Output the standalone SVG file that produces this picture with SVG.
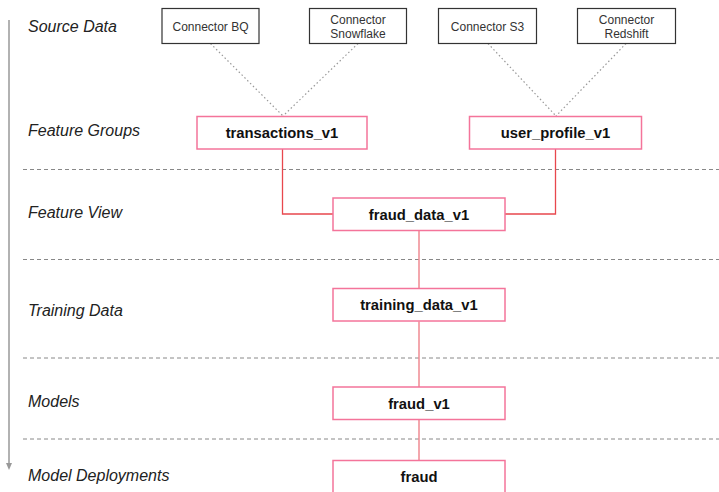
<svg xmlns="http://www.w3.org/2000/svg" width="719" height="492" viewBox="0 0 719 492">
<defs>
<style>
.lane{font-family:"Liberation Sans",Arial,sans-serif;font-style:italic;font-size:16px;fill:#222}
.src rect{fill:#fff;stroke:#333;stroke-width:1.2}
.src text{font-family:"Liberation Sans",Arial,sans-serif;font-size:12px;fill:#333;text-anchor:middle}
.node rect{fill:#fff;stroke:#f4749a;stroke-width:1.5}
.node text{font-family:"Liberation Sans",Arial,sans-serif;font-weight:bold;font-size:14.8px;fill:#111;text-anchor:middle}
.sep{stroke:#888;stroke-width:1;stroke-dasharray:4 3;fill:none}
.dot{stroke:#999;stroke-width:1.2;stroke-dasharray:1.5 2.5;fill:none}
.red{stroke:#e8474d;stroke-width:1.3;fill:none}
.pink{stroke:#ef8a92;stroke-width:1.5;fill:none}
</style>
<marker id="ah" markerWidth="6" markerHeight="6" refX="3" refY="5" orient="auto" markerUnits="userSpaceOnUse">
<path d="M0,0 L6,0 L3,6 Z" fill="#999"/>
</marker>
</defs>
<rect width="719" height="492" fill="#fff"/>
<line x1="9" y1="20" x2="9" y2="464" stroke="#999" stroke-width="1.5"/>
<path d="M6,463 L12,463 L9,470 Z" fill="#999"/>
<g id="separators">
<line class="sep" x1="23" y1="169.5" x2="719" y2="169.5"/>
<line class="sep" x1="23" y1="259.5" x2="719" y2="259.5"/>
<line class="sep" x1="23" y1="358" x2="719" y2="358"/>
<line class="sep" x1="23" y1="439" x2="719" y2="439"/>
</g>
<g id="lanes">
<text class="lane" x="28" y="31.5">Source Data</text>
<text class="lane" x="28" y="136">Feature Groups</text>
<text class="lane" x="28" y="217.5">Feature View</text>
<text class="lane" x="28" y="316">Training Data</text>
<text class="lane" x="28" y="407">Models</text>
<text class="lane" x="28" y="481">Model Deployments</text>
</g>
<g id="connectors">
<line class="dot" x1="210.5" y1="43.5" x2="283" y2="116"/>
<line class="dot" x1="358" y1="43.5" x2="283" y2="116"/>
<line class="dot" x1="488" y1="43.5" x2="556" y2="116"/>
<line class="dot" x1="626" y1="43.5" x2="556" y2="116"/>
<polyline class="red" points="282.5,149 282.5,214 333,214"/>
<polyline class="red" points="555.5,149 555.5,214 505,214"/>
<line class="pink" x1="419" y1="231" x2="419" y2="288.5"/>
<line class="pink" x1="419" y1="321.5" x2="419" y2="387"/>
<line class="pink" x1="419" y1="419.5" x2="419" y2="460.5"/>
</g>
<g id="connector-bq" class="src">
<rect x="162" y="8.5" width="97" height="35"/>
<text x="210.5" y="30.5">Connector BQ</text>
</g>
<g id="connector-snowflake" class="src">
<rect x="309.5" y="8.5" width="97" height="35"/>
<text x="358" y="23.5">Connector</text>
<text x="358" y="37.5">Snowflake</text>
</g>
<g id="connector-s3" class="src">
<rect x="438.5" y="8.5" width="98" height="35"/>
<text x="487.5" y="30.5">Connector S3</text>
</g>
<g id="connector-redshift" class="src">
<rect x="577.5" y="8.5" width="98" height="35"/>
<text x="626.5" y="23.5">Connector</text>
<text x="626.5" y="37.5">Redshift</text>
</g>
<g id="transactions_v1" class="node">
<rect x="197" y="116.5" width="170" height="32.5"/>
<text x="282" y="138">transactions_v1</text>
</g>
<g id="user_profile_v1" class="node">
<rect x="469.5" y="116.5" width="172" height="32.5"/>
<text x="555.5" y="138">user_profile_v1</text>
</g>
<g id="fraud_data_v1" class="node">
<rect x="333" y="198" width="172" height="32.5"/>
<text x="419" y="219.5">fraud_data_v1</text>
</g>
<g id="training_data_v1" class="node">
<rect x="333" y="288.5" width="172" height="32.5"/>
<text x="419" y="310">training_data_v1</text>
</g>
<g id="fraud_v1" class="node">
<rect x="333" y="387" width="172" height="32.5"/>
<text x="419" y="408.5">fraud_v1</text>
</g>
<g id="fraud" class="node">
<rect x="333" y="460.5" width="172" height="40"/>
<text x="419" y="482">fraud</text>
</g>
</svg>
